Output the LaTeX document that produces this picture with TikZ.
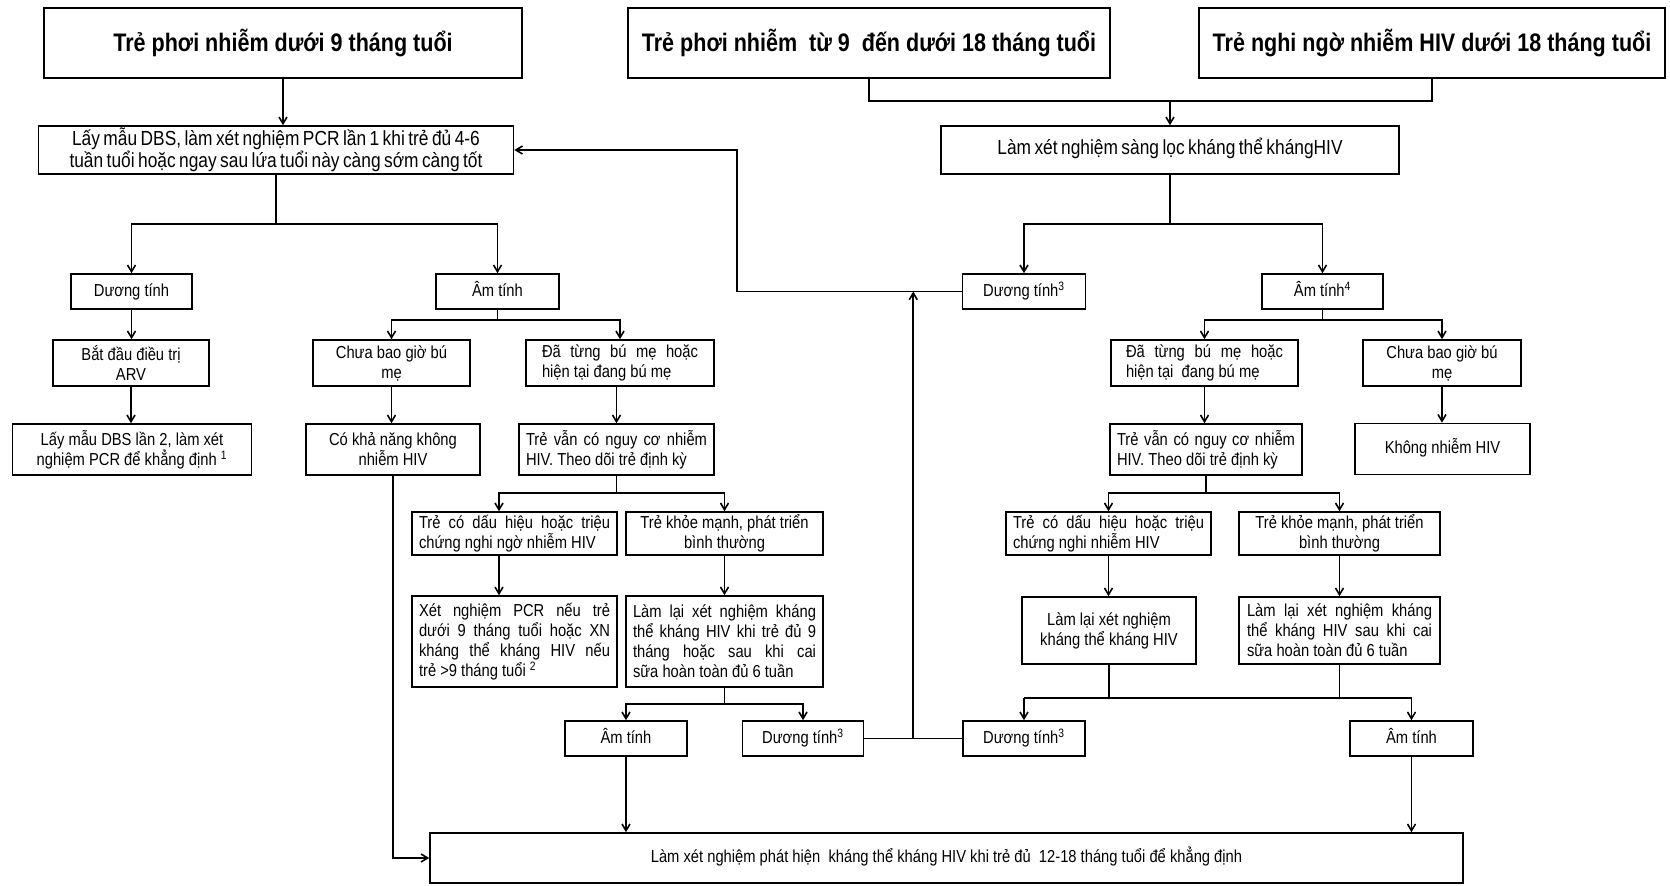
\documentclass[tikz,border=0pt]{standalone}
\usepackage{fontspec}
\setmainfont{Liberation Sans}[FakeStretch=0.85]
\usetikzlibrary{arrows.meta,calc}
\newcommand\bodyfont{\fontsize{13pt}{15pt}\selectfont}
\newcommand\bigbodyfont{\fontsize{15.3pt}{15.5pt}\selectfont\spaceskip=0.17em plus 0.05em}
\newcommand\titlefont{\fontsize{19pt}{22pt}\selectfont\bfseries}
\begin{document}
\begin{tikzpicture}[x=0.75pt,y=-0.75pt,
  bx/.style 2 args={draw, line width=1.2pt, minimum width=#1*0.75pt, minimum height=#2*0.75pt, inner sep=0pt, font=\bodyfont, align=center},
  one/.style={text height=10pt, text depth=3pt},
  tb/.style={font=\titlefont},
  bb/.style={font=\bigbodyfont},
  jx/.style={text width=#1*0.75pt, align=justify},
  ln/.style={line width=1.2pt},
  arr/.style={line width=1.2pt, -{Straight Barb[length=5pt,width=6pt]}}]
\useasboundingbox[fill=white] (0,0) rectangle (1670,885);

% top row
\node[bx={478}{70},tb] (B1) at (283,43) {Trẻ phơi nhiễm dưới 9 tháng tuổi};
\node[bx={482}{70},tb] (B2) at (869,43) {Trẻ phơi nhiễm~ từ 9~ đến dưới 18 tháng tuổi};
\node[bx={466}{70},tb] (B3) at (1432,43) {Trẻ nghi ngờ nhiễm HIV dưới 18 tháng tuổi};

\node[bx={475}{48},bb] (PCR1) at (276,150) {Lấy mẫu DBS, làm xét nghiệm PCR lần 1 khi trẻ đủ 4-6\\tuần tuổi hoặc ngay sau lứa tuổi này càng sớm càng tốt};
\node[bx={458}{48},bb,one] (SCR) at (1170,150) {Làm xét nghiệm sàng lọc kháng thể khángHIV};

% second level
\node[bx={121}{35},one] (DTL) at (131.5,291.5) {Dương tính};
\node[bx={123}{35},one] (ATL) at (497.5,291.5) {Âm tính};
\node[bx={123}{35},one] (DT3T) at (1024,291.5) {Dương tính\textsuperscript{3}};
\node[bx={121}{35},one] (AT4) at (1322.5,291.5) {Âm tính\textsuperscript{4}};

% left part
\node[bx={156}{46}] (ARV) at (131,363) {Bắt đầu điều trị\\ARV};
\node[bx={239}{51}] (DBS2) at (132,449.5) {Lấy mẫu DBS lần 2, làm xét\\nghiệm PCR để khẳng định \textsuperscript{1}};
\node[bx={157}{46}] (CBL) at (391.5,363) {Chưa bao giờ bú\\mẹ};
\node[bx={188}{46},jx=156] (DTBL) at (620,363) {Đã từng bú mẹ hoặc\linebreak hiện tại đang bú mẹ};
\node[bx={174}{51}] (CKN) at (393,449.5) {Có khả năng không\\nhiễm HIV};
\node[bx={195}{51},jx=181] (TVL) at (616.5,449.5) {Trẻ vẫn có nguy cơ nhiễm\linebreak HIV. Theo dõi trẻ định kỳ};
\node[bx={205}{43},jx=191] (TCL) at (514.5,533.5) {Trẻ có dấu hiệu hoặc triệu\linebreak chứng nghi ngờ nhiễm HIV};
\node[bx={197}{43}] (TKL) at (724.5,533.5) {Trẻ khỏe mạnh, phát triển\\bình thường};
\node[bx={205}{91},jx=191] (XNL) at (514.5,641.5) {Xét nghiệm PCR nếu trẻ\linebreak dưới 9 tháng tuổi hoặc XN\linebreak kháng thể kháng HIV nếu\linebreak trẻ >9 tháng tuổi \textsuperscript{2}};
\node[bx={197}{91},jx=183] (LLL) at (724.5,641.5) {Làm lại xét nghiệm kháng\linebreak thể kháng HIV khi trẻ đủ 9\linebreak tháng hoặc sau khi cai\linebreak sữa hoàn toàn đủ 6 tuần};
\node[bx={122}{35},one] (ATBL) at (626,738.5) {Âm tính};
\node[bx={121}{35},one] (DT3BL) at (803,738.5) {Dương tính\textsuperscript{3}};

% right part
\node[bx={187}{46},jx=157] (DTBR) at (1204.5,363) {Đã từng bú mẹ hoặc\linebreak hiện tại~ đang bú mẹ};
\node[bx={158}{46}] (CBR) at (1442,363) {Chưa bao giờ bú\\mẹ};
\node[bx={192}{51},jx=178] (TVR) at (1206,449.5) {Trẻ vẫn có nguy cơ nhiễm\linebreak HIV. Theo dõi trẻ định kỳ};
\node[bx={175}{51},one] (KNH) at (1442.5,449) {Không nhiễm HIV};
\node[bx={205}{43},jx=191] (TCR) at (1108.5,533.5) {Trẻ có dấu hiệu hoặc triệu\linebreak chứng nghi nhiễm HIV};
\node[bx={201}{43}] (TKR) at (1339.5,533.5) {Trẻ khỏe mạnh, phát triển\\bình thường};
\node[bx={174}{67}] (LLR1) at (1109,630.5) {Làm lại xét nghiệm\\kháng thể kháng HIV};
\node[bx={201}{67},jx=185] (LLR2) at (1339.5,630.5) {Làm lại xét nghiệm kháng\linebreak thể kháng HIV sau khi cai\linebreak sữa hoàn toàn đủ 6 tuần};
\node[bx={122}{35},one] (DT3BR) at (1024,738.5) {Dương tính\textsuperscript{3}};
\node[bx={123}{35},one] (ATBR) at (1411.5,738.5) {Âm tính};

\node[bx={1033}{50},one] (FIN) at (946.5,858) {Làm xét nghiệm phát hiện~ kháng thể kháng HIV khi trẻ đủ~ 12-18 tháng tuổi để khẳng định};

% level coordinates
\coordinate (y1) at (0,101);
\coordinate (y2) at (0,224);
\coordinate (y3) at (0,320);
\coordinate (y4) at (0,493);
\coordinate (y5) at (0,704);
\coordinate (y6) at (0,698);
\coordinate (fb) at (737,150);
\coordinate (tcx) at (499,493);

% connectors top
\draw[arr] (B1.south) -- (B1.south |- PCR1.north);
\draw[ln] (B2.south) |- (B3.south |- y1) -- (B3.south);
\draw[arr] (SCR.north |- y1) -- (SCR.north);

% left branch
\draw[arr] (PCR1.south) -- (PCR1.south |- y2) -| (DTL.north);
\draw[arr] (PCR1.south |- y2) -| (ATL.north);
\draw[arr] (DTL.south) -- (DTL.south |- ARV.north);
\draw[arr] (ARV.south) -- (ARV.south |- DBS2.north);
\draw[arr] (ATL.south) -- (ATL.south |- y3) -| (CBL.north);
\draw[arr] (ATL.south |- y3) -| (DTBL.north);
\draw[arr] (CBL.south) -- (CBL.south |- CKN.north);
\draw[arr] (TVL.north |- DTBL.south) -- (TVL.north);
\draw[arr] (TVL.south) -- (TVL.south |- y4) -| (tcx |- TCL.north);
\draw[arr] (TVL.south |- y4) -| (TKL.north);
\draw[arr] (tcx |- TCL.south) -- (tcx |- XNL.north);
\draw[arr] (TKL.south) -- (TKL.south |- LLL.north);
\draw[arr] (LLL.south) -- (LLL.south |- y5) -| (ATBL.north);
\draw[arr] (LLL.south |- y5) -| (DT3BL.north);
\draw[arr] (ATBL.south) -- (ATBL.south |- FIN.north);
\draw[arr] (CKN.south) |- (FIN.west);

% right branch
\draw[arr] (SCR.south) -- (SCR.south |- y2) -| (DT3T.north);
\draw[arr] (SCR.south |- y2) -| (AT4.north);
\draw[arr] (AT4.south) -- (AT4.south |- y3) -| (DTBR.north);
\draw[arr] (AT4.south |- y3) -| (CBR.north);
\draw[arr] (DTBR.south) -- (DTBR.south |- TVR.north);
\draw[arr] (CBR.south) -- (CBR.south |- KNH.north);
\draw[arr] (TVR.south) -- (TVR.south |- y4) -| (TCR.north);
\draw[arr] (TVR.south |- y4) -| (TKR.north);
\draw[arr] (TCR.south) -- (TCR.south |- LLR1.north);
\draw[arr] (TKR.south) -- (TKR.south |- LLR2.north);
\draw[ln] (LLR1.south) -- (LLR1.south |- y6);
\draw[ln] (LLR2.south) -- (LLR2.south |- y6);
\draw[arr] (DT3BR.north |- y6) -- (DT3BR.north);
\draw[arr] (DT3BR.north |- y6) -- (ATBR.north |- y6) -- (ATBR.north);
\draw[arr] (ATBR.south) -- (ATBR.south |- FIN.north);

% feedback
\coordinate (v1) at ($(DT3BL.east)!0.5!(DT3BR.west)$);
\draw[ln] (DT3BL.east) -- (DT3BR.west);
\draw[arr] (v1) -- (v1 |- DT3T.west);
\draw[arr] (DT3T.west) -| (fb) -- (PCR1.east);
\end{tikzpicture}
\end{document}
